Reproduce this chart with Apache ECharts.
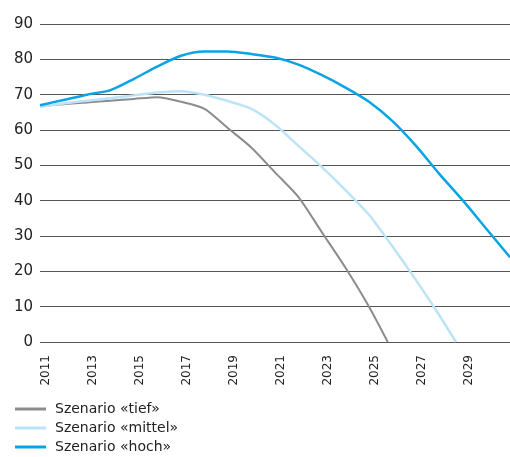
<!DOCTYPE html>
<html>
<head>
<meta charset="utf-8">
<script src="https://cdn.jsdelivr.net/npm/echarts@6/dist/echarts.min.js"></script>
<style>
html,body{margin:0;padding:0;background:#fff;}
#c{width:510px;height:457px;}
</style>
</head>
<body>
<div id="c"></div>
<script>
const seriesNames = ['Szenario «tief»', 'Szenario «mittel»', 'Szenario «hoch»'];
const tiefYears = [2011, 2012, 2013, 2014, 2015, 2016, 2017, 2018, 2019, 2020, 2021, 2022, 2023, 2024, 2025, 2025.8];
const tiefValues = [66.8, 67.3, 67.8, 68.3, 68.8, 69.3, 68, 66, 60.5, 55, 48, 41, 31, 21, 10, 0];
const mittelYears = [2011, 2012, 2013, 2014, 2015, 2016, 2017, 2018, 2019, 2020, 2021, 2022, 2023, 2024, 2025, 2026, 2027, 2028, 2028.7];
const mittelValues = [66.5, 67.5, 68.3, 69, 69.8, 70.6, 71, 70, 68.2, 66, 61.5, 55.5, 49.5, 43, 36, 27, 17.5, 7.5, 0];
const hochYears = [2011, 2012, 2013, 2014, 2015, 2016, 2017, 2018, 2019, 2020, 2021, 2022, 2023, 2024, 2025, 2026, 2027, 2028, 2029, 2030, 2031];
const hochValues = [67, 68.5, 70, 71.3, 74.5, 78, 81, 82.2, 82.2, 81.5, 80.5, 78.5, 75.5, 72, 68, 62.5, 55.5, 47.5, 40, 32, 24];
const yTicks = [0, 10, 20, 30, 40, 50, 60, 70, 80, 90];
const xLabelYears = [2011, 2013, 2015, 2017, 2019, 2021, 2023, 2025, 2027, 2029];

const pair = (xs, ys) => xs.map((x, i) => [x, ys[i]]);
const chart = echarts.init(document.getElementById('c'), null, {renderer: 'canvas'});
const font = 'DejaVu Sans';
chart.setOption({
  animation: false,
  grid: {left: 40, right: 0, top: 24, bottom: 115, containLabel: false},
  xAxis: {
    type: 'value', min: 2011, max: 2031, interval: 1,
    axisLine: {show: false}, axisTick: {show: false}, splitLine: {show: false},
    axisLabel: {
      rotate: 90, margin: 13, fontFamily: font, fontSize: 12, color: '#222',
      verticalAlign: 'top',
      formatter: v => xLabelYears.includes(v) ? String(v) : ''
    }
  },
  yAxis: {
    type: 'value', min: yTicks[0], max: yTicks[yTicks.length - 1], interval: 10,
    axisLine: {show: false}, axisTick: {show: false},
    splitLine: {lineStyle: {color: '#555', width: 1}},
    axisLabel: {margin: 7, fontFamily: font, fontSize: 15, color: '#222'}
  },
  legend: {
    orient: 'vertical', left: 15, top: 402, padding: 0, itemWidth: 31, itemHeight: 3, itemGap: 5,
    textStyle: {fontFamily: font, fontSize: 14, color: '#222', padding: [0, 0, 0, 4]},
    data: seriesNames.map(n => ({name: n, icon: 'rect'}))
  },
  series: [
    {name: seriesNames[0], type: 'line', data: pair(tiefYears, tiefValues), symbol: 'none', smooth: 0.25,
     lineStyle: {color: '#8c8c8c', width: 2}, itemStyle: {color: '#8c8c8c'}},
    {name: seriesNames[1], type: 'line', data: pair(mittelYears, mittelValues), symbol: 'none', smooth: 0.25,
     lineStyle: {color: '#bde3f6', width: 2.5}, itemStyle: {color: '#bde3f6'}},
    {name: seriesNames[2], type: 'line', data: pair(hochYears, hochValues), symbol: 'none', smooth: 0.25,
     lineStyle: {color: '#0aa4e4', width: 2.5}, itemStyle: {color: '#0aa4e4'}}
  ]
});
</script>
</body>
</html>
